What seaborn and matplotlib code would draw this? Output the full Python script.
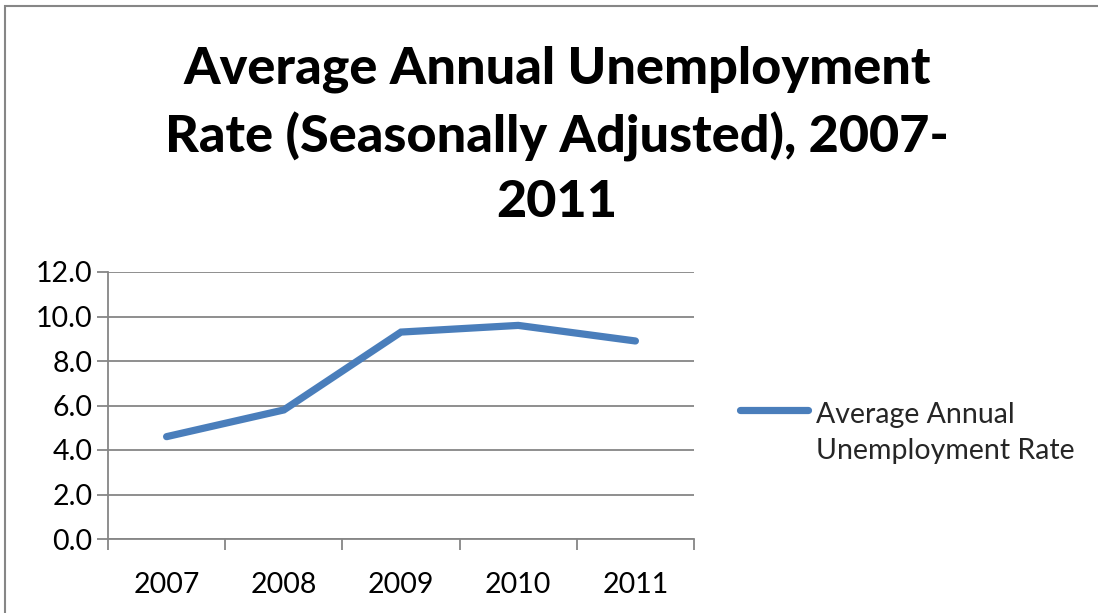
import matplotlib
matplotlib.use("Agg")
import matplotlib.pyplot as plt
import seaborn as sns
import pandas as pd
from matplotlib.patches import Rectangle
from matplotlib.ticker import FixedLocator
from matplotlib.legend_handler import HandlerLine2D

years = ["2007", "2008", "2009", "2010", "2011"]
rates = [4.6, 5.8, 9.3, 9.6, 8.9]
series_name = "Average Annual\nUnemployment Rate"
title = "Average Annual Unemployment\nRate (Seasonally Adjusted), 2007-\n2011"
y_ticks = [0, 2, 4, 6, 8, 10, 12]

sns.set_theme(style="white")
plt.rcParams['font.family'] = ['Lato', 'DejaVu Sans']

df = pd.DataFrame({"Year": years, "Rate": rates})

W, H = 1098, 613
fig = plt.figure(figsize=(W / 100, H / 100), dpi=100)
ax = fig.add_axes([108 / W, 1 - 539 / H, (694 - 108) / W, (539 - 272) / H])

color = "#4A7EBB"
sns.lineplot(data=df, x="Year", y="Rate", ax=ax, color=color, linewidth=5.2,
             solid_capstyle="round", solid_joinstyle="miter", label=series_name, legend=False)

gray = "#868686"
ax.set_xlim(-0.5, 4.5)
ax.set_ylim(0, 12)
ax.set_yticks(y_ticks)
ax.set_yticklabels([f"{v:.1f}" for v in y_ticks], fontsize=20.5)
ax.set_xticks(range(len(years)))
ax.set_xticklabels(years, fontsize=20.5)
ax.xaxis.set_minor_locator(FixedLocator([i - 0.5 for i in range(len(years) + 1)]))
ax.tick_params(axis="x", which="major", length=0, pad=24, labelcolor="black")
ax.tick_params(axis="x", which="minor", length=8, width=1.3, color=gray, bottom=True)
ax.tick_params(axis="y", which="major", length=8, width=1.3, color=gray, left=True, pad=3, labelcolor="black")
ax.set_xlabel("")
ax.set_ylabel("")
ax.grid(axis="y", color=gray, linewidth=1.3)
ax.set_axisbelow(True)
for s in ["top", "right"]:
    ax.spines[s].set_visible(False)
for s in ["left", "bottom"]:
    ax.spines[s].set_color(gray)
    ax.spines[s].set_linewidth(1.3)

fig.text(557 / W, 1 - 136 / H, title, ha="center", va="center", fontsize=37.5,
         fontweight="black", color="black", linespacing=1.46)


class HandlerUp(HandlerLine2D):
    def create_artists(self, legend, orig_handle, xdescent, ydescent, width, height, fontsize, trans):
        arts = super().create_artists(legend, orig_handle, xdescent, ydescent, width, height, fontsize, trans)
        for a in arts:
            a.set_ydata([y + 17 for y in a.get_ydata()])
            a.set_solid_capstyle("round")
        return arts


handles, labels = ax.get_legend_handles_labels()
leg = fig.legend(handles, labels, loc="center left", bbox_to_anchor=(714 / W, 1 - 433 / H),
                 frameon=False, fontsize=20.5, handlelength=2.4, handletextpad=0.3,
                 handler_map={handles[0]: HandlerUp()})
for t in leg.get_texts():
    t.set_linespacing(1.5)

fig.patches.append(Rectangle((5 / W, -0.1), 1.2, 1 - 6 / H + 0.1, transform=fig.transFigure,
                             fill=False, edgecolor=gray, linewidth=1.5))

fig.savefig("out.png", dpi=100, facecolor="white")
